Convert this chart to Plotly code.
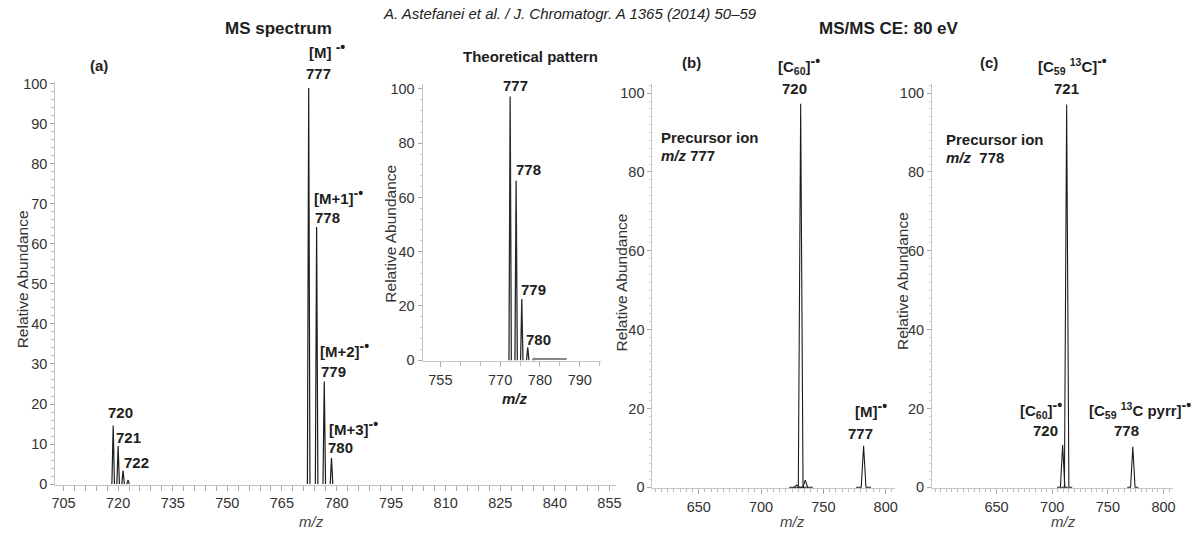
import plotly.graph_objects as go

W, H = 1197, 534

# ---- (a) full-scan MS spectrum -------------------------------------------
a_mz = [718.64, 720.0, 721.36, 722.73, 772.36, 774.54, 776.64, 778.63]
a_int = [14.6, 9.5, 3.4, 1.0, 98.9, 64.2, 25.6, 6.5]

# ---- theoretical isotope pattern (inset) ---------------------------------
t_mz = [772.52, 774.02, 775.44, 776.94, 778.5]
t_int = [97.2, 66.2, 22.5, 4.7, 0.8]
t_tail_mz = [778.3, 786.7]
t_tail_int = [0.4, 0.4]

# ---- (b) MS/MS of m/z 777 -------------------------------------------------
b_mz = [728.6, 731.8, 735.5, 782.3]
b_int = [0.6, 97.3, 1.8, 10.5]

# ---- (c) MS/MS of m/z 778 -------------------------------------------------
c_mz = [709.4, 713.0, 772.4]
c_int = [10.7, 97.1, 10.3]

# tick labels
a_xticks = [705, 720, 735, 750, 765, 780, 795, 810, 825, 840, 855]
inset_xticks = [755, 770, 780, 790]
bc_xticks = [650, 700, 750, 800]


def px_x(p):
    return p / W


def px_y(p):
    return 1 - p / H


def profile(centers, heights, half, foot):
    xs, ys = [], []
    for c, h in zip(centers, heights):
        xs += [c - foot, c - half, c, c + half, c + foot, None]
        ys += [0, 0, h, 0, 0, None]
    return xs, ys


LINE = "#1c1c1c"
FONT = "Liberation Sans, Arial, sans-serif"

fig = go.Figure()

xs, ys = profile(a_mz, a_int, 0.35, 0.35)
fig.add_trace(go.Scatter(x=xs, y=ys, mode="lines", line=dict(color=LINE, width=1.2),
                         xaxis="x", yaxis="y", hoverinfo="skip"))

xs, ys = profile(t_mz, t_int, 0.3, 0.3)
fig.add_trace(go.Scatter(x=xs, y=ys, mode="lines", line=dict(color="#2a2a2a", width=1.3),
                         xaxis="x2", yaxis="y2", hoverinfo="skip"))
fig.add_trace(go.Scatter(x=t_tail_mz, y=t_tail_int, mode="lines",
                         line=dict(color="#888", width=2), xaxis="x2", yaxis="y2",
                         hoverinfo="skip"))

xs, ys = profile(b_mz, b_int, 1.9, 6)
fig.add_trace(go.Scatter(x=xs, y=ys, mode="lines", line=dict(color=LINE, width=1.1),
                         xaxis="x3", yaxis="y3", hoverinfo="skip"))

xs, ys = profile(c_mz, c_int, 2.0, 5)
fig.add_trace(go.Scatter(x=xs, y=ys, mode="lines", line=dict(color=LINE, width=1.1),
                         xaxis="x4", yaxis="y4", hoverinfo="skip"))

tickfont = dict(family=FONT, size=14.5, color="#333")


def axis_style(**kw):
    d = dict(showline=True, linecolor="#c4c4c4", linewidth=1, showgrid=False,
             zeroline=False, ticks="outside", ticklen=5, tickcolor="#a8a8a8",
             tickwidth=1, tickfont=tickfont, fixedrange=True)
    d.update(kw)
    return d


layout = dict(
    width=W, height=H, margin=dict(l=0, r=0, t=0, b=0),
    paper_bgcolor="white", plot_bgcolor="rgba(0,0,0,0)", showlegend=False,
    xaxis=axis_style(domain=[px_x(51.7), px_x(617)], range=[702.74, 856.9],
                     anchor="y", tickmode="array", tickvals=a_xticks,
                     minor=dict(dtick=3, tick0=705, ticks="outside", ticklen=5,
                                tickcolor="#a8a8a8")),
    yaxis=axis_style(domain=[px_y(491), px_y(78)], range=[-0.24, 100.4],
                     anchor="x", dtick=10, tick0=0, ticklen=4,
                     minor=dict(dtick=2, ticks="outside", ticklen=3, tickcolor="#bbb")),
    xaxis2=axis_style(domain=[px_x(421.7), px_x(602)], range=[750.51, 795.46],
                      anchor="y2", tickmode="array", tickvals=inset_xticks,
                      minor=dict(dtick=5, tick0=750, ticks="outside", ticklen=4,
                                 tickcolor="#bbb")),
    yaxis2=axis_style(domain=[px_y(364), px_y(80)], range=[-0.36, 101.8],
                      anchor="x2", dtick=20, tick0=0, ticklen=4,
                      minor=dict(dtick=4, ticks="outside", ticklen=2, tickcolor="#ccc")),
    xaxis3=axis_style(domain=[px_x(653.3), px_x(898)], range=[612.8, 807.7],
                      anchor="y3", tickmode="array", tickvals=bc_xticks,
                      minor=dict(dtick=5, tick0=650, ticks="outside", ticklen=3,
                                 tickcolor="#bbb")),
    yaxis3=axis_style(domain=[px_y(494.3), px_y(80)], range=[-0.25, 102.3],
                      anchor="x3", dtick=20, tick0=0, ticklen=4,
                      minor=dict(dtick=2, ticks="outside", ticklen=2, tickcolor="#ccc")),
    xaxis4=axis_style(domain=[px_x(935), px_x(1178)], range=[592.1, 808.6],
                      anchor="y4", tickmode="array", tickvals=bc_xticks,
                      minor=dict(dtick=5, tick0=650, ticks="outside", ticklen=3,
                                 tickcolor="#bbb")),
    yaxis4=axis_style(domain=[px_y(494.3), px_y(80)], range=[-0.25, 102.3],
                      anchor="x4", dtick=20, tick0=0, ticklen=4,
                      minor=dict(dtick=2, ticks="outside", ticklen=2, tickcolor="#ccc")),
)
fig.update_layout(**layout)

# radical-anion mark: bold dash and dot raised above the ion bracket
DOT = "<sup><span style='font-size:14px'>-•</span></sup>"


def label(text, x, y, size=15, color="#1e1e1e", angle=0, xanchor="center",
          bold=True):
    if bold:
        text = f"<b>{text}</b>"
    fig.add_annotation(text=text, x=px_x(x), y=px_y(y), xref="paper", yref="paper",
                       xanchor=xanchor, yanchor="middle", showarrow=False,
                       textangle=angle,
                       font=dict(family=FONT, size=size, color=color))


# page header and panel titles
label("<i>A. Astefanei et al. / J. Chromatogr. A 1365 (2014) 50–59</i>", 570, 8,
      size=15, color="#222", bold=False)
label("MS spectrum", 277, 23, size=17)
label("MS/MS CE: 80 eV", 892, 23, size=17)

# panel (a)
label("(a)", 96, 61)
label(f"[M] {DOT}", 325, 45)
label("777", 317, 69)
label(f"[M+1]{DOT}", 337, 195)
label("778", 326, 216.7)
label(f"[M+2]{DOT}", 343, 351.7)
label("779", 332, 375)
label(f"[M+3]{DOT}", 352, 431.7)
label("780", 339, 452.3)
label("720", 117, 416.7)
label("721", 125, 442.7)
label("722", 133, 467.7)
label("Relative Abundance", 18.3, 280, size=15.5, color="#333", angle=-90, bold=False)
label("<i>m/z</i>", 310, 528, size=15, color="#444", bold=False)

# inset
label("Theoretical pattern", 530, 51.7, size=15)
label("777", 515.5, 81.7)
label("778", 528, 167.3)
label("779", 533.7, 290.7)
label("780", 539, 342.3)
label("Relative Abundance", 390, 233.3, size=15.5, color="#333", angle=-90, bold=False)
label("<i>m/z</i>", 515, 402.7, size=15)

# panel (b)
label("(b)", 693, 58.3)
label(f"[C<sub>60</sub>]{DOT}", 801.5, 60)
label("720", 796.6, 85)
label("Precursor ion", 660, 134.3, xanchor="left")
label("<i>m/z</i> 777", 660, 153.3, xanchor="left")
label(f"[M]{DOT}", 874, 413.3)
label("777", 863.3, 437.7)
label("Relative Abundance", 621.7, 283.3, size=15.5, color="#333", angle=-90, bold=False)
label("<i>m/z</i>", 794, 528, size=15, color="#444", bold=False)

# panel (c)
label("(c)", 992, 58.3)
label(f"[C<sub>59</sub> <sup>13</sup>C]{DOT}", 1076.5, 60)
label("721", 1070.5, 85)
label("Precursor ion", 946.7, 136.7, xanchor="left")
label("<i>m/z</i>  778", 946.7, 155, xanchor="left")
label(f"[C<sub>60</sub>]{DOT}", 1045, 413)
label("720", 1049, 435)
label(f"[C<sub>59</sub> <sup>13</sup>C pyrr]{DOT}", 1145, 413)
label("778", 1131.5, 435)
label("Relative Abundance", 906, 281.7, size=15.5, color="#333", angle=-90, bold=False)
label("<i>m/z</i>", 1068, 528, size=15, color="#444", bold=False)

fig.write_html("out.html", config=dict(displayModeBar=False))
